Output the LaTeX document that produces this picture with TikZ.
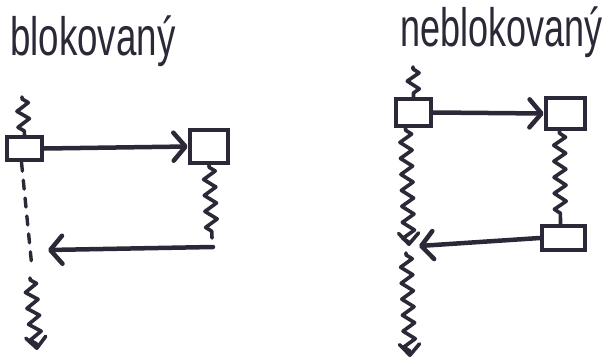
\documentclass[tikz,border=0pt]{standalone}
\usepackage{fontspec}
\setmainfont{Liberation Sans}
\usetikzlibrary{arrows.meta,decorations.pathmorphing}
\definecolor{ink}{RGB}{45,40,55}
\begin{document}
\begin{tikzpicture}[x=1pt,y=-1pt,
  title/.style={text=ink, anchor=base west, inner sep=0pt, font=\fontsize{36}{40}\selectfont},
  box/.style={draw=ink, line width=4.5pt, rectangle, inner sep=0pt},
  msg/.style={draw=ink, line width=4.5pt, line cap=round,
    -{Straight Barb[length=12pt,width=28pt,line cap=round,line join=round]}},
  wave/.style={draw=ink, line width=3.6pt, line cap=round, line join=round, decorate,
    decoration={zigzag, segment length=16pt, amplitude=6pt, pre length=2pt, post length=3pt}},
  wavetip/.style={wave, -{Straight Barb[length=11pt,width=20pt,line cap=round,line join=round]}},
  blockwait/.style={draw=ink, line width=3.4pt, line cap=round, dash pattern=on 9pt off 9pt}
]
\fill[white] (0,0) rectangle (612,361);
\useasboundingbox (0,0) rectangle (612,361);

% ---- blocking call ----
\node[title] (tblk) at (10,56) {\scalebox{1.02}[1.5]{blokovaný}};

\node[box, minimum width=35pt, minimum height=23pt] (a) at (24.5,148.5) {};
\node[box, minimum width=38pt, minimum height=33pt] (b) at (209,146.5) {};
\coordinate (atop) at (22,97);
\coordinate (bret) at (212,238);
\coordinate (rstart) at (213,247);
\coordinate (rtip) at (48,250);
\coordinate (dend) at (32,268);
\coordinate (wstart) at (30,278);
\coordinate (wend) at (37,350);

\draw[wave] (atop) -- (a.north);
\draw[msg] (a.east) -- (b.west);
\draw[wave] (b.south) -- (bret);
\draw[msg] (rstart) -- (rtip);
\draw[blockwait] ([xshift=-3pt]a.south) -- (dend);
\draw[wavetip] (wstart) -- (wend);

% ---- non-blocking call ----
\node[title] (tnon) at (400,46) {\scalebox{1}[1.5]{neblokovaný}};

\node[box, minimum width=35pt, minimum height=27pt] (c) at (413.5,112.5) {};
\node[box, minimum width=39pt, minimum height=31pt] (d) at (565.5,113.5) {};
\node[box, minimum width=43pt, minimum height=24pt] (e) at (563.5,238) {};
\coordinate (ctop) at (413,67);
\coordinate (ctip) at (409,246);
\coordinate (rtip2) at (419,246);
\coordinate (cnext) at (406,253);
\coordinate (cend) at (410,357);

\draw[wave] (ctop) -- (c.north);
\draw[msg] (c.east) -- (d.west);
\draw[wave] ([xshift=-6pt]d.south) -- ([xshift=-3pt]e.north);
\draw[msg] (e.west) -- (rtip2);
\draw[wavetip] ([xshift=-8pt]c.south) -- (ctip);
\draw[wavetip] (cnext) -- (cend);
\end{tikzpicture}
\end{document}
